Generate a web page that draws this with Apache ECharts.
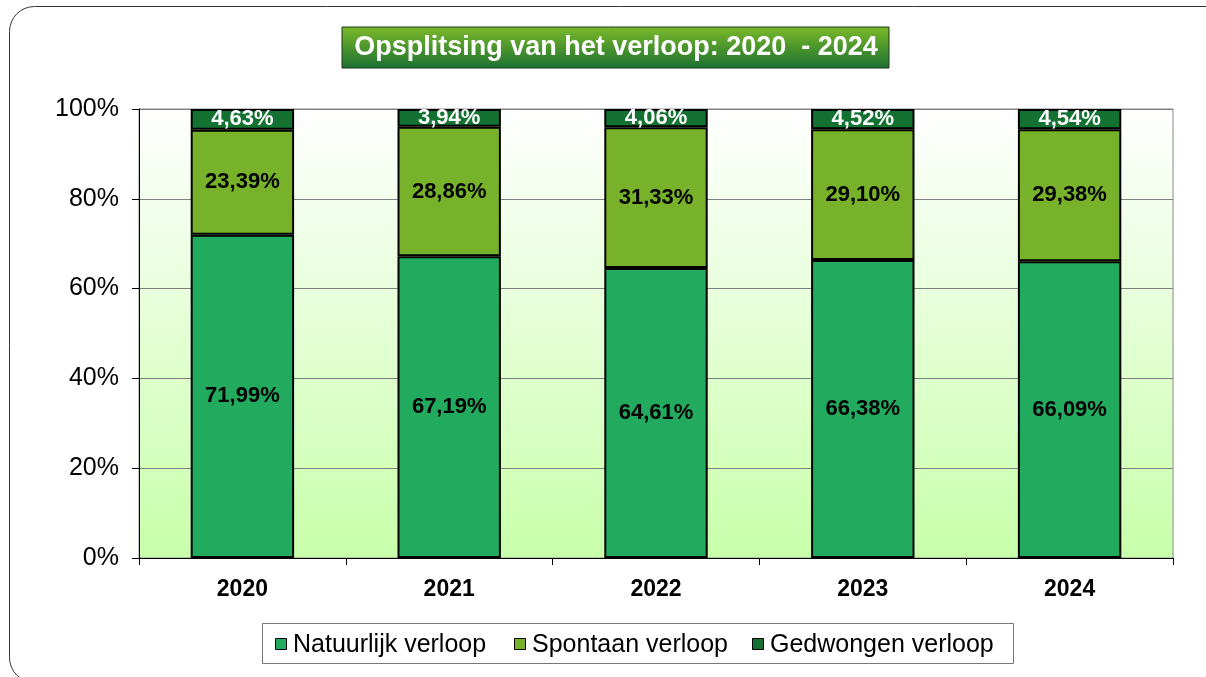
<!DOCTYPE html>
<html><head><meta charset="utf-8">
<script src="https://cdn.jsdelivr.net/npm/echarts@6/dist/echarts.min.js"></script>
<style>html,body{margin:0;padding:0;background:#fff;}#c{width:1206px;height:677px;}</style>
</head><body><div id="c"></div>
<script>
const categories = ['2020','2021','2022','2023','2024'];
const natuurlijk = [71.99, 67.19, 64.61, 66.38, 66.09];
const spontaan = [23.39, 28.86, 31.33, 29.10, 29.38];
const gedwongen = [4.63, 3.94, 4.06, 4.52, 4.54];
const seriesNames = ['Natuurlijk verloop','Spontaan verloop','Gedwongen verloop'];
const yTicks = [0, 20, 40, 60, 80, 100];

const chart = echarts.init(document.getElementById('c'), null, {renderer:'canvas'});
const fmt = p => p.value.toFixed(2).replace('.', ',') + '%';
const font = 'Liberation Sans, Arial, sans-serif';
const lbl = (c) => ({show:true, position:'inside', formatter:fmt, fontSize:22, fontWeight:'bold', color:c, fontFamily:font});
const bar = (i, d, col, lc) => ({type:'bar', stack:'t', barWidth:'50%', name:seriesNames[i], data:d,
  itemStyle:{color:col, borderColor:'#000', borderWidth:2}, label:lbl(lc)});
chart.setOption({
  animation:false,
  textStyle:{fontFamily:font},
  grid:{left:139, right:33, top:109, bottom:119, show:true, borderColor:'#888', borderWidth:1,
    backgroundColor:new echarts.graphic.LinearGradient(0,0,0,1,[{offset:0,color:'#ffffff'},{offset:1,color:'#c8ffaa'}])},
  xAxis:{type:'category', data:categories,
    axisLine:{lineStyle:{color:'#000', width:1}},
    axisTick:{show:true, length:7, lineStyle:{color:'#000'}},
    axisLabel:{fontSize:23, fontWeight:'bold', color:'#000', margin:20, fontFamily:font}},
  yAxis:{type:'value', min:0, max:100, interval:20,
    axisLine:{show:true, lineStyle:{color:'#000'}},
    axisTick:{show:true, length:7, lineStyle:{color:'#000'}},
    splitLine:{lineStyle:{color:'#7f7f7f', width:1}},
    axisLabel:{fontSize:25, color:'#000', margin:20, fontFamily:font,
      formatter:v => yTicks.includes(v) ? v + '%' : ''}},
  legend:{show:false},
  series:[
    bar(0, natuurlijk, '#22aa5f', '#000'),
    bar(1, spontaan, '#77b22a', '#000'),
    bar(2, gedwongen, '#137232', '#fff')
  ],
  graphic:[
    {type:'rect', shape:{x:9.5, y:6.5, width:1222, height:676, r:25}, style:{fill:'none', stroke:'#333', lineWidth:1}, z:-10},
    {type:'rect', shape:{x:342, y:27, width:547, height:41}, style:{
      fill:new echarts.graphic.LinearGradient(0,0,0,1,[{offset:0,color:'#7cba2a'},{offset:1,color:'#1b7030'}]),
      stroke:'#1a3a1a', lineWidth:1}, z:10},
    {type:'text', style:{text:'Opsplitsing van het verloop: 2020  - 2024', x:616, y:48, align:'center', verticalAlign:'middle',
      fill:'#fff', font:'bold 27px ' + font}, z:11},
    {type:'rect', shape:{x:262.5, y:623.5, width:751, height:40}, style:{fill:'#fff', stroke:'#777', lineWidth:1}, z:10},
    {type:'rect', shape:{x:275.5, y:638.5, width:11, height:11}, style:{fill:'#22aa5f', stroke:'#000', lineWidth:1}, z:11},
    {type:'text', style:{text:seriesNames[0], x:293, y:645, verticalAlign:'middle', fill:'#000', font:'25px ' + font}, z:11},
    {type:'rect', shape:{x:514.5, y:638.5, width:11, height:11}, style:{fill:'#77b22a', stroke:'#000', lineWidth:1}, z:11},
    {type:'text', style:{text:seriesNames[1], x:532, y:645, verticalAlign:'middle', fill:'#000', font:'25px ' + font}, z:11},
    {type:'rect', shape:{x:752.5, y:638.5, width:11, height:11}, style:{fill:'#137232', stroke:'#000', lineWidth:1}, z:11},
    {type:'text', style:{text:seriesNames[2], x:770, y:645, verticalAlign:'middle', fill:'#000', font:'25px ' + font}, z:11}
  ]
});
</script></body></html>
